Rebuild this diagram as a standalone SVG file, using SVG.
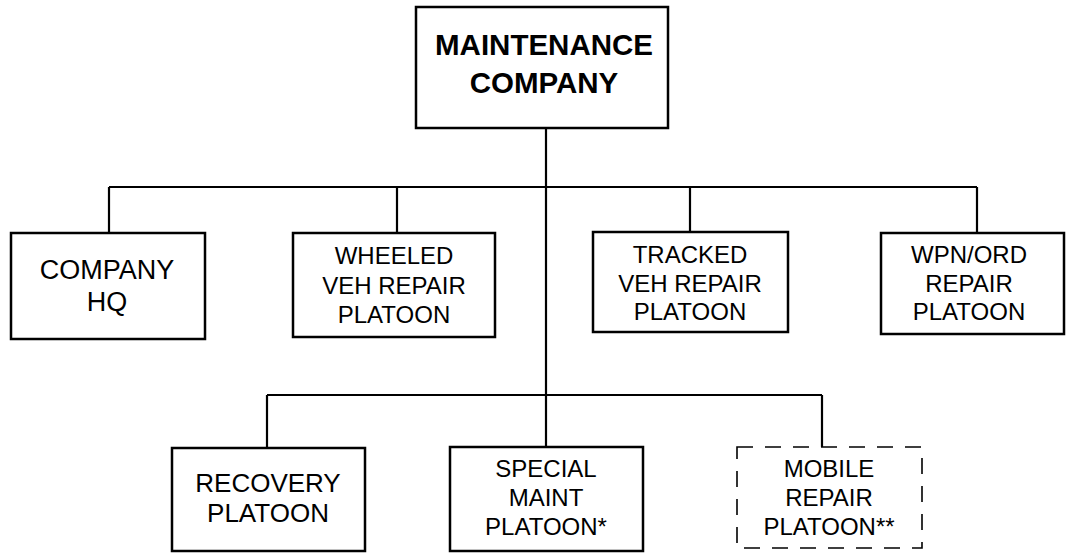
<svg xmlns="http://www.w3.org/2000/svg" width="1067" height="553" viewBox="0 0 1067 553">
<style>
.box{fill:#fff;stroke:#000;stroke-width:2.5}
.dash{fill:#fff;stroke:#000;stroke-width:1.6;stroke-dasharray:16 12}
.t{font-family:"Liberation Sans",Arial,sans-serif;font-size:24px;text-anchor:middle;fill:#000}
.t2{font-size:26px}
.t3{font-size:27px}
.tb{font-weight:bold;font-size:29.5px}
.c{fill:none;stroke:#000;stroke-width:2.2}
</style>
<rect width="1067" height="553" fill="#fff"/>
<g id="connectors">
<path class="c" d="M546 128V447M109 187H977M109 187V233M397 187V233M690 187V232M977 187V233M267 395H822M267 395V448M822 395V447"/>
</g>
<g id="maintenance-company">
<rect class="box" x="416" y="7" width="252" height="121"/>
<text class="t tb" x="544" y="55">MAINTENANCE</text>
<text class="t tb" x="544" y="93">COMPANY</text>
</g>
<g id="company-hq">
<rect class="box" x="11" y="233" width="194" height="106"/>
<text class="t t3" x="107" y="279">COMPANY</text>
<text class="t t3" x="107" y="311">HQ</text>
</g>
<g id="wheeled">
<rect class="box" x="293" y="233" width="202" height="104"/>
<text class="t" x="394" y="264">WHEELED</text>
<text class="t" x="394" y="294">VEH REPAIR</text>
<text class="t" x="394" y="323">PLATOON</text>
</g>
<g id="tracked">
<rect class="box" x="593" y="232" width="195" height="100"/>
<text class="t" x="690" y="263">TRACKED</text>
<text class="t" x="690" y="292">VEH REPAIR</text>
<text class="t" x="690" y="320">PLATOON</text>
</g>
<g id="wpn-ord">
<rect class="box" x="881" y="233" width="183" height="101"/>
<text class="t" x="969" y="263">WPN/ORD</text>
<text class="t" x="969" y="292">REPAIR</text>
<text class="t" x="969" y="320">PLATOON</text>
</g>
<g id="recovery">
<rect class="box" x="172" y="448" width="193" height="103"/>
<text class="t t2" x="268" y="492">RECOVERY</text>
<text class="t t2" x="268" y="522">PLATOON</text>
</g>
<g id="special-maint">
<rect class="box" x="450" y="447" width="193" height="104"/>
<text class="t" x="546" y="477">SPECIAL</text>
<text class="t" x="546" y="506">MAINT</text>
<text class="t" x="546" y="535">PLATOON*</text>
</g>
<g id="mobile-repair">
<rect class="dash" x="737" y="447" width="185" height="101"/>
<text class="t" x="829" y="477">MOBILE</text>
<text class="t" x="829" y="506">REPAIR</text>
<text class="t" x="829" y="535">PLATOON**</text>
</g>
</svg>
